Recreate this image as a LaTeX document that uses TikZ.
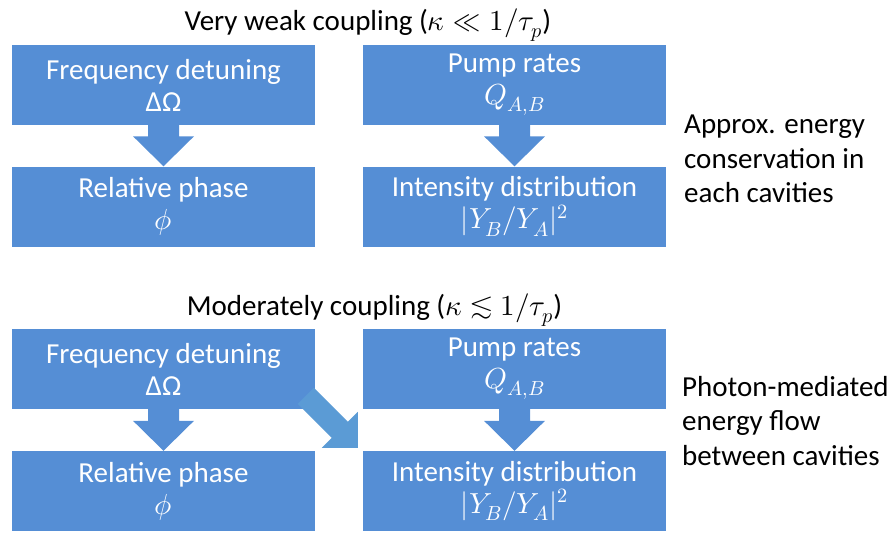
\documentclass[tikz,border=0pt]{standalone}
\usepackage{amsmath}
\usepackage{fontspec}
\usepackage{unicode-math}
\setmainfont{Carlito}
\setmathfont{Latin Modern Math}
\usetikzlibrary{calc}
\definecolor{boxblue}{HTML}{558ED5}
\definecolor{flowblue}{HTML}{5B9BD5}

% vertical block arrow from the bottom of one box to the top of the next
\newcommand{\blockarrow}[2]{%
  \fill[boxblue]
    ($(#1.south)+(-15.5,0)$) -- ($(#1.south)+(15.5,0)$)
    -- ($(#2.north)+(15.5,-30)$) -- ($(#2.north)+(30.5,-30)$)
    -- (#2.north)
    -- ($(#2.north)+(-30.5,-30)$) -- ($(#2.north)+(-15.5,-30)$) -- cycle;}

\begin{document}
\begin{tikzpicture}[x=1pt,y=-1pt,
  box/.style={fill=boxblue, minimum width=303pt, minimum height=80pt,
    inner sep=0pt, align=center, text=white,
    font=\fontsize{29}{32}\selectfont},
  heading/.style={anchor=base, inner sep=0pt, font=\fontsize{29}{32}\selectfont},
  remark/.style={anchor=north west, inner sep=0pt, align=left,
    font=\fontsize{29}{34.5}\selectfont}]
\useasboundingbox (0,0) rectangle (896,533);

% very weak coupling
\node[heading] (t1) at (368,30) {Very weak coupling ($\kappa \ll 1/\tau_p$)};
\node[box] (fd1) at (163.5,85) {Frequency detuning\\ΔΩ};
\node[box] (rp1) at (163.5,206.5) {Relative phase\\$\phi$};
\node[box] (pr1) at (514.5,85) {Pump rates\\$Q_{A,B}$};
\node[box] (ip1) at (514.5,206.5) {Intensity distribution\\$|Y_B/Y_A|^2$};
\blockarrow{fd1}{rp1}
\blockarrow{pr1}{ip1}
\node[remark] (r1) at (684,115) {Approx. energy\\conservation in\\each cavities};

% moderate coupling
\node[heading] (t2) at (374.5,315) {Moderately coupling ($\kappa \lesssim 1/\tau_p$)};
\node[box] (fd2) at (163.5,369) {Frequency detuning\\ΔΩ};
\node[box] (rp2) at (163.5,491) {Relative phase\\$\phi$};
\node[box] (pr2) at (514.5,369) {Pump rates\\$Q_{A,B}$};
\node[box] (ip2) at (514.5,491) {Intensity distribution\\$|Y_B/Y_A|^2$};
\blockarrow{fd2}{rp2}
\blockarrow{pr2}{ip2}

% diagonal flow arrow from detuning to intensity
\coordinate (dtip) at ($(ip2.north west)+(-5,-3)$);
\fill[flowblue]
  (dtip) -- ($(dtip)+(0,-36)$) -- ($(dtip)+(-9.9,-26.1)$)
  -- ($(dtip)+(-43.9,-60.1)$) -- ($(dtip)+(-60.1,-43.9)$)
  -- ($(dtip)+(-26.1,-9.9)$) -- ($(dtip)+(-36,0)$) -- cycle;

\node[remark] (r2) at (682,376) {Photon-mediated\\energy flow\\between cavities};
\end{tikzpicture}
\end{document}
